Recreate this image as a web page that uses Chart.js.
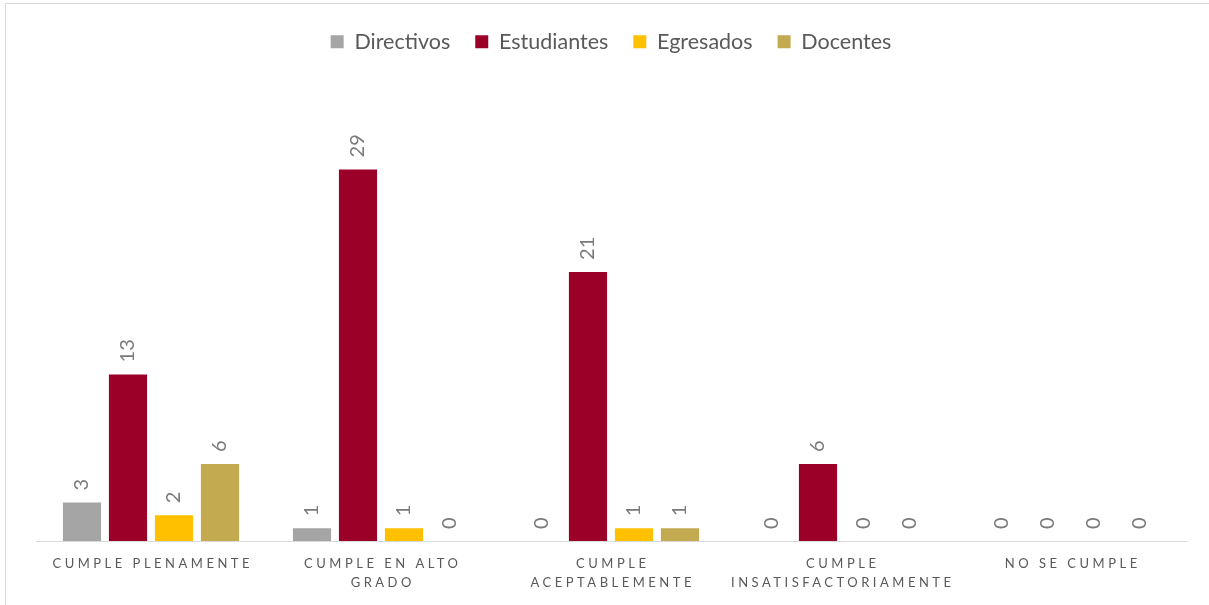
<!DOCTYPE html>
<html>
<head>
<meta charset="utf-8">
<script src="https://cdn.jsdelivr.net/npm/chart.js@4/dist/chart.umd.min.js"></script>
<style>
  html, body { margin: 0; padding: 0; background: #fff; overflow: hidden; }
  #wrap { position: absolute; left: 0; top: 0; width: 1209px; height: 605px; }
  #frame { position: absolute; left: 5px; top: 3px; width: 1230px; height: 640px; border: 1px solid #d9d9d9; box-sizing: border-box; }
</style>
</head>
<body>
<div id="wrap">
  <div id="frame"></div>
  <canvas id="chart" width="1209" height="605"></canvas>
</div>
<script>
// 데이터
const categories = [
    ['CUMPLE PLENAMENTE'],
    ['CUMPLE EN ALTO', 'GRADO'],
    ['CUMPLE', 'ACEPTABLEMENTE'],
    ['CUMPLE', 'INSATISFACTORIAMENTE'],
    ['NO SE CUMPLE']
];
const seriesNames = ['Directivos', 'Estudiantes', 'Egresados', 'Docentes'];
const directivos = [3, 1, 0, 0, 0];
const estudiantes = [13, 29, 21, 6, 0];
const egresados = [2, 1, 1, 0, 0];
const docentes = [6, 0, 1, 0, 0];
const seriesColors = ['#a5a5a5', '#9b0029', '#ffc000', '#c3a94f'];

const FONT = 'Lato, "Open Sans", sans-serif';

// 막대 위 회전 라벨
const barLabels = {
    id: 'barLabels',
    afterDatasetsDraw(chart) {
        const ctx = chart.ctx;
        ctx.save();
        ctx.fillStyle = '#7a7a7a';
        ctx.font = '20px ' + FONT;
        ctx.textAlign = 'left';
        ctx.textBaseline = 'middle';
        chart.data.datasets.forEach((ds, i) => {
            chart.getDatasetMeta(i).data.forEach((bar, j) => {
                ctx.save();
                ctx.translate(bar.x, bar.y - 12);
                ctx.rotate(-Math.PI / 2);
                ctx.fillText(String(ds.data[j]), 0, 0);
                ctx.restore();
            });
        });
        ctx.restore();
    }
};

// x축 라벨 (자간 넓게)
const xLabels = {
    id: 'xLabels',
    afterDraw(chart) {
        const ctx = chart.ctx;
        const xs = chart.scales.x;
        ctx.save();
        ctx.fillStyle = '#595959';
        ctx.font = '13px ' + FONT;
        ctx.letterSpacing = '3.5px';
        ctx.textAlign = 'center';
        ctx.textBaseline = 'middle';
        categories.forEach((lines, i) => {
            const x = xs.getPixelForValue(i);
            lines.forEach((line, k) => {
                ctx.fillText(line, x + 1.75, 564 + k * 19);
            });
        });
        ctx.restore();
    }
};

// 범례 아래 여백
const legendSpace = {
    id: 'legendSpace',
    beforeInit(chart) {
        const origFit = chart.legend.fit;
        chart.legend.fit = function () {
            origFit.bind(chart.legend)();
            this.height += 30;
        };
    }
};

new Chart(document.getElementById('chart'), {
    type: 'bar',
    data: {
        labels: categories.map(c => c.join(' ')),
        datasets: [directivos, estudiantes, egresados, docentes].map((d, i) => ({
            label: seriesNames[i],
            data: d,
            backgroundColor: seriesColors[i],
            borderWidth: 0,
            categoryPercentage: 0.8,
            barPercentage: 0.83
        }))
    },
    options: {
        responsive: false,
        animation: false,
        layout: {
            padding: { left: 36, right: 23, top: 6, bottom: 56 }
        },
        plugins: {
            legend: {
                position: 'top',
                labels: {
                    boxWidth: 13,
                    boxHeight: 13,
                    padding: 25,
                    color: '#595959',
                    font: { size: 21.5, family: FONT }
                }
            },
            tooltip: { enabled: false }
        },
        scales: {
            x: {
                grid: { display: false },
                border: { color: '#d9d9d9', width: 1 },
                ticks: { display: false }
            },
            y: {
                display: false,
                min: 0,
                max: 35
            }
        }
    },
    plugins: [barLabels, xLabels, legendSpace]
});
</script>
</body>
</html>
